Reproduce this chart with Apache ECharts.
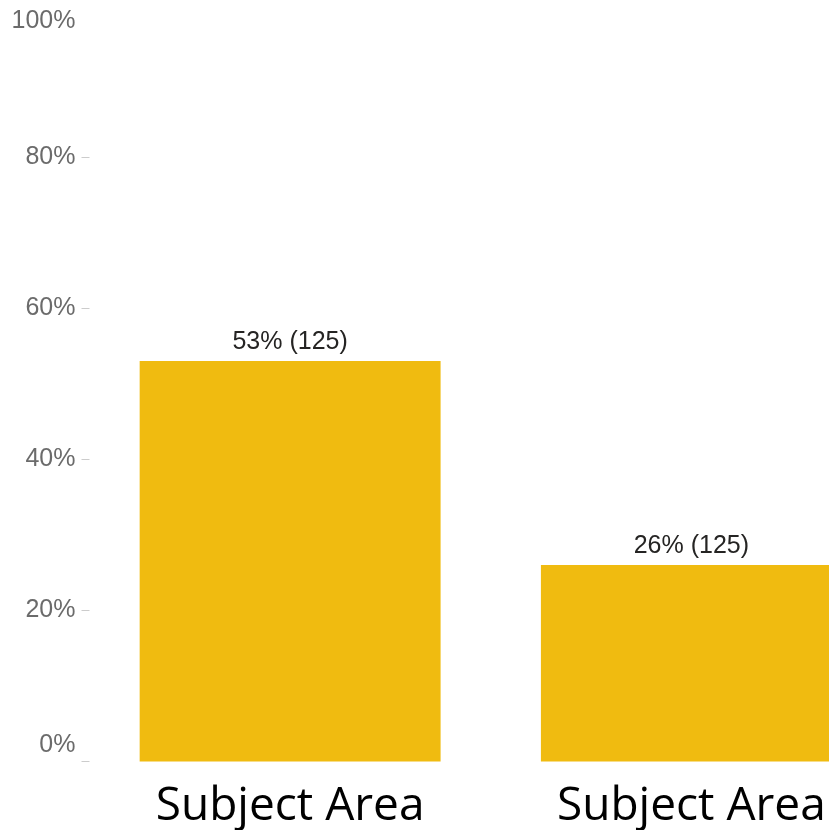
<!DOCTYPE html>
<html>
<head>
<meta charset="utf-8">
<style>
  html, body { margin: 0; padding: 0; background: #fff; overflow: hidden; }
  /* the plot continues past the right edge of the window */
  #chart { width: 892px; height: 830px; }
</style>
<script src="https://cdn.jsdelivr.net/npm/echarts@6/dist/echarts.min.js"></script>
</head>
<body>
<div id="chart"></div>
<script>
// Share of respondents per subject area, with respondent counts
const categories = ['Subject Area', 'Subject Area'];
const percentValues = [53, 26];
const counts = [125, 125];
const yTicks = [0, 20, 40, 60, 80, 100];
const tickMarks = [0, 20, 40, 60, 80];

const chart = echarts.init(document.getElementById('chart'), null, { renderer: 'canvas' });

chart.setOption({
  animation: false,
  grid: { left: 89.5, right: 0, top: 6, bottom: 68.5, containLabel: false },
  xAxis: {
    type: 'category',
    data: categories,
    axisLine: { show: false },
    axisTick: { show: false },
    axisLabel: {
      margin: 22,
      color: '#000',
      fontFamily: 'Open Sans',
      fontSize: 46,
      interval: 0
    }
  },
  yAxis: {
    type: 'value',
    min: yTicks[0],
    max: yTicks[yTicks.length - 1],
    interval: 20,
    splitLine: { show: false },
    axisLine: { show: false },
    axisTick: {
      show: true,
      length: 8,
      customValues: tickMarks,
      lineStyle: { color: '#cccccc', width: 1 }
    },
    axisLabel: {
      margin: 14,
      color: '#6b6b6b',
      fontFamily: 'Liberation Sans',
      fontSize: 25,
      formatter: function (v) {
        if (v === yTicks[0]) return '{lo|' + v + '%}';
        if (v === yTicks[yTicks.length - 1]) return '{hi|' + v + '%}';
        return v + '%';
      },
      rich: {
        lo: { color: '#6b6b6b', fontFamily: 'Liberation Sans', fontSize: 25, padding: [0, 0, 32, 0] },
        hi: { color: '#6b6b6b', fontFamily: 'Liberation Sans', fontSize: 25, padding: [30, 0, 0, 0] }
      }
    }
  },
  series: [{
    type: 'bar',
    data: percentValues,
    barCategoryGap: '25%',
    itemStyle: { color: '#F0BB10' },
    label: {
      show: true,
      position: 'top',
      distance: 6,
      color: '#252423',
      fontFamily: 'Liberation Sans',
      fontSize: 25,
      formatter: function (p) { return p.value + '% (' + counts[p.dataIndex] + ')'; }
    }
  }]
});
</script>
</body>
</html>
